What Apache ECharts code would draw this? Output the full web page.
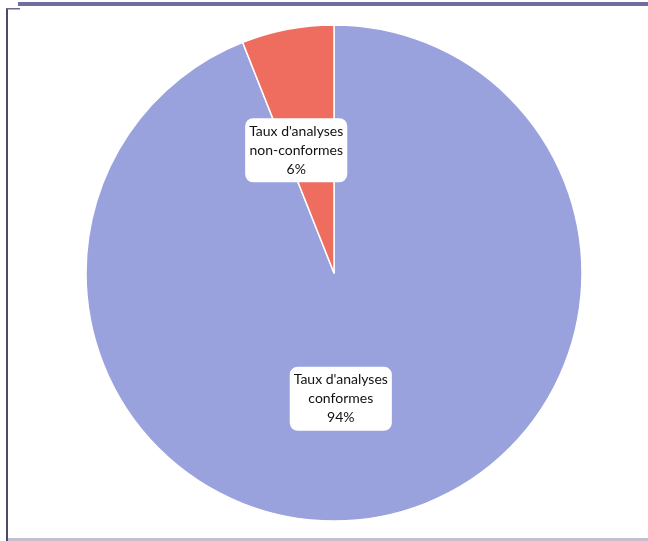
<!DOCTYPE html>
<html><head><meta charset="utf-8">
<script src="https://cdn.jsdelivr.net/npm/echarts@6/dist/echarts.min.js"></script>
<style>html,body{margin:0;padding:0;background:#fff}#c{width:648px;height:541px}</style>
</head><body><div id="c"></div>
<script>
const categories = ["Taux d'analyses\nconformes", "Taux d'analyses\nnon-conformes"];
const values = [94, 6];
const colors = ['#9aa2de', '#ee6d5f'];

const chart = echarts.init(document.getElementById('c'), null, {renderer: 'canvas'});
chart.setOption({
  backgroundColor: '#ffffff',
  animation: false,
  graphic: [
    {type: 'rect', shape: {x: 18, y: 2, width: 630, height: 4}, style: {fill: '#6f6e9c'}},
    {type: 'rect', shape: {x: 6, y: 8, width: 2, height: 533}, style: {fill: '#4a4a6a'}},
    {type: 'rect', shape: {x: 6, y: 8, width: 14, height: 1.5}, style: {fill: '#6a6a8a'}},
    {type: 'rect', shape: {x: 8, y: 538, width: 640, height: 3}, style: {fill: '#c8bcd0'}}
  ],
  series: [{
    type: 'pie',
    center: [334, 273],
    radius: [0, 248],
    startAngle: 90,
    clockwise: true,
    label: {
      show: true,
      position: 'inside',
      formatter: p => p.name + '\n' + p.value + '%',
      color: '#111',
      fontSize: 14,
      fontFamily: 'Lato, Liberation Sans, sans-serif',
      lineHeight: 19,
      backgroundColor: '#ffffff',
      borderRadius: 8,
      padding: [4, 4, 3, 4]
    },
    labelLine: {show: false},
    itemStyle: {borderColor: '#ffffff', borderWidth: 1.5},
    data: categories.map((n, i) => ({
      name: n, value: values[i], itemStyle: {color: colors[i]},
      label: {offset: i === 0 ? [-17, 1] : [-14, 2]}
    }))
  }]
});
</script></body></html>
